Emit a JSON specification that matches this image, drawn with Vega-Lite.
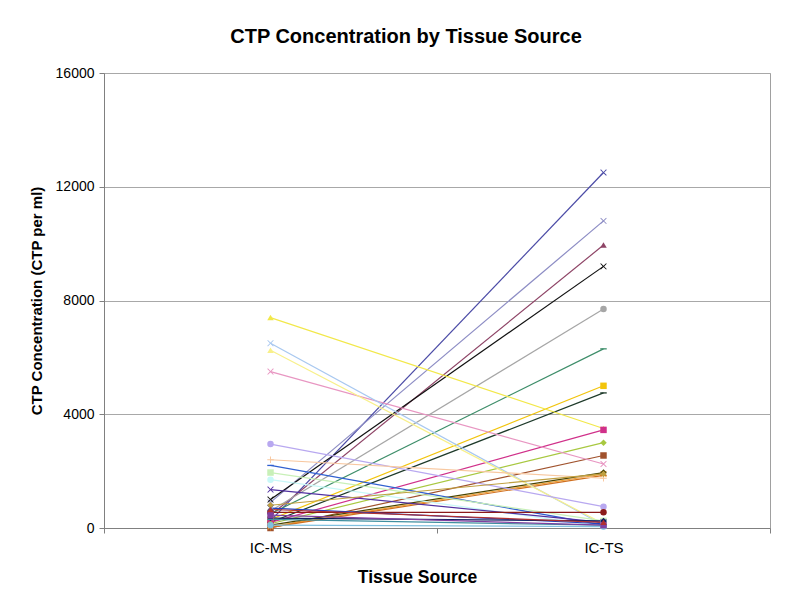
{
  "$schema": "https://vega.github.io/schema/vega-lite/v6.json",
  "autosize": {"type": "none"},
  "width": 666,
  "height": 455,
  "padding": {"left": 104, "top": 73, "right": 21, "bottom": 74},
  "background": "white",
  "title": {
    "text": "CTP Concentration by Tissue Source",
    "font": "Liberation Sans",
    "fontSize": 20,
    "fontWeight": "bold",
    "color": "#000000",
    "anchor": "middle",
    "dx": -31,
    "offset": 19
  },
  "config": {
    "view": {"stroke": "#a0a0a0", "strokeWidth": 1},
    "axis": {
      "labelFont": "Liberation Sans",
      "titleFont": "Liberation Sans",
      "labelColor": "#000000",
      "titleColor": "#000000",
      "domainColor": "#808080",
      "tickColor": "#808080",
      "gridColor": "#a8a8a8",
      "gridWidth": 1
    }
  },
  "datasets": {
    "ctp": [
      {"s": "s01", "t": "IC-MS", "v": 250}, {"s": "s01", "t": "IC-TS", "v": 12500},
      {"s": "s02", "t": "IC-MS", "v": 900}, {"s": "s02", "t": "IC-TS", "v": 10800},
      {"s": "s03", "t": "IC-MS", "v": 450}, {"s": "s03", "t": "IC-TS", "v": 9950},
      {"s": "s04", "t": "IC-MS", "v": 1000}, {"s": "s04", "t": "IC-TS", "v": 9200},
      {"s": "s05", "t": "IC-MS", "v": 600}, {"s": "s05", "t": "IC-TS", "v": 7700},
      {"s": "s06", "t": "IC-MS", "v": 500}, {"s": "s06", "t": "IC-TS", "v": 6300},
      {"s": "s07", "t": "IC-MS", "v": 300}, {"s": "s07", "t": "IC-TS", "v": 5000},
      {"s": "s08", "t": "IC-MS", "v": 200}, {"s": "s08", "t": "IC-TS", "v": 4750},
      {"s": "s09", "t": "IC-MS", "v": 7400}, {"s": "s09", "t": "IC-TS", "v": 3500},
      {"s": "s10", "t": "IC-MS", "v": 200}, {"s": "s10", "t": "IC-TS", "v": 3450},
      {"s": "s11", "t": "IC-MS", "v": 150}, {"s": "s11", "t": "IC-TS", "v": 3000},
      {"s": "s12", "t": "IC-MS", "v": 0}, {"s": "s12", "t": "IC-TS", "v": 2550},
      {"s": "s13", "t": "IC-MS", "v": 5500}, {"s": "s13", "t": "IC-TS", "v": 2250},
      {"s": "s14", "t": "IC-MS", "v": 50}, {"s": "s14", "t": "IC-TS", "v": 1900},
      {"s": "s15", "t": "IC-MS", "v": 100}, {"s": "s15", "t": "IC-TS", "v": 1950},
      {"s": "s16", "t": "IC-MS", "v": 20}, {"s": "s16", "t": "IC-TS", "v": 1850},
      {"s": "s17", "t": "IC-MS", "v": 6500}, {"s": "s17", "t": "IC-TS", "v": 100},
      {"s": "s18", "t": "IC-MS", "v": 6250}, {"s": "s18", "t": "IC-TS", "v": 150},
      {"s": "s19", "t": "IC-MS", "v": 2950}, {"s": "s19", "t": "IC-TS", "v": 750},
      {"s": "s20", "t": "IC-MS", "v": 2400}, {"s": "s20", "t": "IC-TS", "v": 1750},
      {"s": "s21", "t": "IC-MS", "v": 2200}, {"s": "s21", "t": "IC-TS", "v": 100},
      {"s": "s22", "t": "IC-MS", "v": 1950}, {"s": "s22", "t": "IC-TS", "v": 250},
      {"s": "s23", "t": "IC-MS", "v": 1700}, {"s": "s23", "t": "IC-TS", "v": 50},
      {"s": "s24", "t": "IC-MS", "v": 1350}, {"s": "s24", "t": "IC-TS", "v": 200},
      {"s": "s25", "t": "IC-MS", "v": 550}, {"s": "s25", "t": "IC-TS", "v": 550},
      {"s": "s26", "t": "IC-MS", "v": 700}, {"s": "s26", "t": "IC-TS", "v": 150},
      {"s": "s27", "t": "IC-MS", "v": 350}, {"s": "s27", "t": "IC-TS", "v": 250},
      {"s": "s28", "t": "IC-MS", "v": 300}, {"s": "s28", "t": "IC-TS", "v": 100},
      {"s": "s29", "t": "IC-MS", "v": 100}, {"s": "s29", "t": "IC-TS", "v": 50},
      {"s": "s30", "t": "IC-MS", "v": 450}, {"s": "s30", "t": "IC-TS", "v": 100},
      {"s": "s31", "t": "IC-MS", "v": 800}, {"s": "s31", "t": "IC-TS", "v": 1900},
      {"s": "s32", "t": "IC-MS", "v": 650}, {"s": "s32", "t": "IC-TS", "v": 200}
    ]
  },
  "data": {"name": "ctp"},
  "encoding": {
    "x": {
      "field": "t",
      "type": "nominal",
      "scale": {"type": "band", "paddingInner": 0, "paddingOuter": 0},
      "axis": {
        "title": "Tissue Source",
        "titleFontSize": 17.5,
        "titleFontWeight": "bold",
        "titlePadding": 13,
        "titleX": 313,
        "labelAngle": 0,
        "labelFontSize": 15,
        "labelPadding": 7,
        "tickSize": 5,
        "tickBand": "extent",
        "grid": false
      }
    },
    "y": {
      "field": "v",
      "type": "quantitative",
      "scale": {"domain": [0, 16000], "nice": false},
      "axis": {
        "title": "CTP Concentration (CTP per ml)",
        "titleFontSize": 15,
        "titleFontWeight": "bold",
        "titlePadding": 11,
        "values": [0, 4000, 8000, 12000, 16000],
        "format": "d",
        "labelFontSize": 14,
        "labelPadding": 5,
        "tickSize": 5,
        "grid": true
      }
    },
    "color": {
      "field": "s",
      "type": "nominal",
      "legend": null,
      "scale": {
        "domain": ["s01","s02","s03","s04","s05","s06","s07","s08","s09","s10","s11","s12","s13","s14","s15","s16","s17","s18","s19","s20","s21","s22","s23","s24","s25","s26","s27","s28","s29","s30","s31","s32"],
        "range": ["#4B4BA6","#8C8CC4","#8E4466","#111111","#A6A6A6","#3E8E6A","#F2C40C","#1E3A2A","#F2E84A","#D0308A","#A8C840","#A0522D","#E896C2","#F0A030","#4A4400","#D07020","#A8C8F0","#F8F08A","#B8A8F0","#F8C8A0","#3060D0","#C8F0B8","#C8F8F8","#5030A0","#8B1A1A","#2040C0","#102060","#4090A0","#80C0E0","#8040A0","#C0A040","#B03030"]
      }
    }
  },
  "layer": [
    {"mark": {"type": "line", "strokeWidth": 1.2}, "encoding": {"detail": {"field": "s"}}},
    {
      "mark": {"type": "point", "filled": true, "size": 42, "opacity": 1},
      "encoding": {
        "shape": {
          "field": "s",
          "type": "nominal",
          "legend": null,
          "scale": {
            "domain": ["s01","s02","s03","s04","s05","s06","s07","s08","s09","s10","s11","s12","s13","s14","s15","s16","s17","s18","s19","s20","s21","s22","s23","s24","s25","s26","s27","s28","s29","s30","s31","s32"],
            "range": [
              "M-1,-0.8L-0.8,-1L0,-0.2L0.8,-1L1,-0.8L0.2,0L1,0.8L0.8,1L0,0.2L-0.8,1L-1,0.8L-0.2,0Z",
              "M-1,-0.8L-0.8,-1L0,-0.2L0.8,-1L1,-0.8L0.2,0L1,0.8L0.8,1L0,0.2L-0.8,1L-1,0.8L-0.2,0Z",
              "triangle-up",
              "M-1,-0.8L-0.8,-1L0,-0.2L0.8,-1L1,-0.8L0.2,0L1,0.8L0.8,1L0,0.2L-0.8,1L-1,0.8L-0.2,0Z",
              "circle",
              "M-1,-0.2L1,-0.2L1,0.2L-1,0.2Z",
              "square",
              "M-1,-0.2L1,-0.2L1,0.2L-1,0.2Z",
              "triangle-up",
              "square",
              "diamond",
              "square",
              "M-1,-0.8L-0.8,-1L0,-0.2L0.8,-1L1,-0.8L0.2,0L1,0.8L0.8,1L0,0.2L-0.8,1L-1,0.8L-0.2,0Z",
              "M-1,-0.8L-0.8,-1L0,-0.2L0.8,-1L1,-0.8L0.2,0L1,0.8L0.8,1L0,0.2L-0.8,1L-1,0.8L-0.2,0Z",
              "diamond",
              "M-0.15,-1L0.15,-1L0.15,-0.15L1,-0.15L1,0.15L0.15,0.15L0.15,1L-0.15,1L-0.15,0.15L-1,0.15L-1,-0.15L-0.15,-0.15Z",
              "M-1,-0.8L-0.8,-1L0,-0.2L0.8,-1L1,-0.8L0.2,0L1,0.8L0.8,1L0,0.2L-0.8,1L-1,0.8L-0.2,0Z",
              "triangle-up",
              "circle",
              "M-0.15,-1L0.15,-1L0.15,-0.15L1,-0.15L1,0.15L0.15,0.15L0.15,1L-0.15,1L-0.15,0.15L-1,0.15L-1,-0.15L-0.15,-0.15Z",
              "M-1,-0.2L1,-0.2L1,0.2L-1,0.2Z",
              "square",
              "circle",
              "M-1,-0.8L-0.8,-1L0,-0.2L0.8,-1L1,-0.8L0.2,0L1,0.8L0.8,1L0,0.2L-0.8,1L-1,0.8L-0.2,0Z",
              "circle",
              "M-1,-0.8L-0.8,-1L0,-0.2L0.8,-1L1,-0.8L0.2,0L1,0.8L0.8,1L0,0.2L-0.8,1L-1,0.8L-0.2,0Z",
              "diamond",
              "M-1,-0.2L1,-0.2L1,0.2L-1,0.2Z",
              "circle",
              "square",
              "diamond",
              "triangle-up"
            ]
          }
        }
      }
    }
  ]
}
